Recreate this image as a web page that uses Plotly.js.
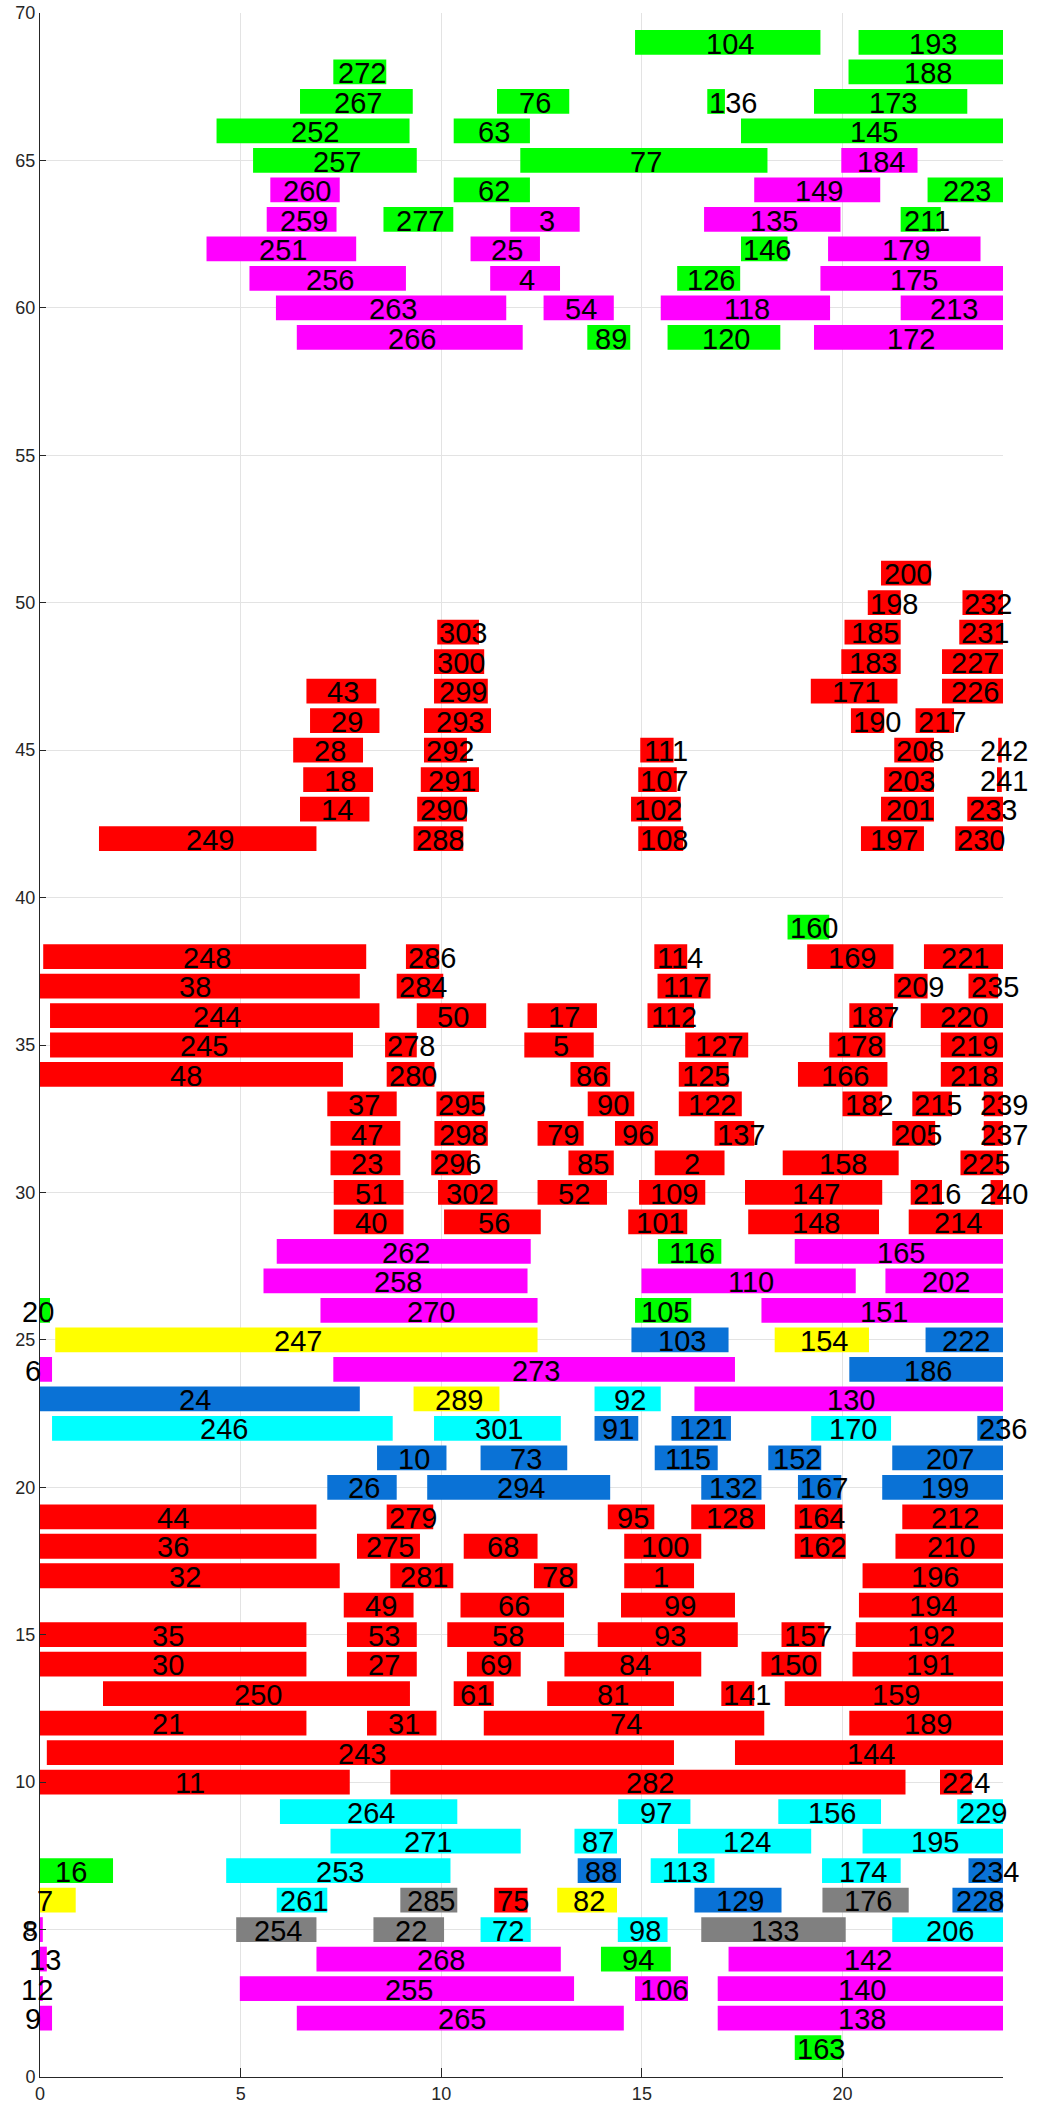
<!DOCTYPE html>
<html>
<head>
<meta charset="utf-8">
<script src="https://cdn.plot.ly/plotly-3.0.1.min.js"></script>
<style>
html,body{margin:0;padding:0;background:#fff;}
#chart{width:1042px;height:2113px;}
</style>
</head>
<body>
<div id="chart"></div>
<script>
// ---- data: one entry per bar, rows listed from top (69) to bottom (1) ----
const barLabel = [
104,193,
272,188,
267,76,136,173,
252,63,145,
257,77,184,
260,62,149,223,
259,277,3,135,211,
251,25,146,179,
256,4,126,175,
263,54,118,213,
266,89,120,172,
200,
198,232,
303,185,231,
300,183,227,
43,299,171,226,
29,293,190,217,
28,292,111,208,242,
18,291,107,203,241,
14,290,102,201,233,
249,288,108,197,230,
160,
248,286,114,169,221,
38,284,117,209,235,
244,50,17,112,187,220,
245,278,5,127,178,219,
48,280,86,125,166,218,
37,295,90,122,182,215,239,
47,298,79,96,137,205,237,
23,296,85,2,158,225,
51,302,52,109,147,216,240,
40,56,101,148,214,
262,116,165,
258,110,202,
20,270,105,151,
247,103,154,222,
6,273,186,
24,289,92,130,
246,301,91,121,170,236,
10,73,115,152,207,
26,294,132,167,199,
44,279,95,128,164,212,
36,275,68,100,162,210,
32,281,78,1,196,
49,66,99,194,
35,53,58,93,157,192,
30,27,69,84,150,191,
250,61,81,141,159,
21,31,74,189,
243,144,
11,282,224,
264,97,156,229,
271,87,124,195,
16,253,88,113,174,234,
7,261,285,75,82,129,176,228,
8,254,22,72,98,133,206,
13,268,94,142,
12,255,106,140,
9,265,138,
163
];

const barRow = [
69,69,
68,68,
67,67,67,67,
66,66,66,
65,65,65,
64,64,64,64,
63,63,63,63,63,
62,62,62,62,
61,61,61,61,
60,60,60,60,
59,59,59,59,
51,
50,50,
49,49,49,
48,48,48,
47,47,47,47,
46,46,46,46,
45,45,45,45,45,
44,44,44,44,44,
43,43,43,43,43,
42,42,42,42,42,
39,
38,38,38,38,38,
37,37,37,37,37,
36,36,36,36,36,36,
35,35,35,35,35,35,
34,34,34,34,34,34,
33,33,33,33,33,33,33,
32,32,32,32,32,32,32,
31,31,31,31,31,31,
30,30,30,30,30,30,30,
29,29,29,29,29,
28,28,28,
27,27,27,
26,26,26,26,
25,25,25,25,
24,24,24,
23,23,23,23,
22,22,22,22,22,22,
21,21,21,21,21,
20,20,20,20,20,
19,19,19,19,19,19,
18,18,18,18,18,18,
17,17,17,17,17,
16,16,16,16,
15,15,15,15,15,15,
14,14,14,14,14,14,
13,13,13,13,13,
12,12,12,12,
11,11,
10,10,10,
9,9,9,9,
8,8,8,8,
7,7,7,7,7,7,
6,6,6,6,6,6,6,6,
5,5,5,5,5,5,5,
4,4,4,4,
3,3,3,3,
2,2,2,
1
];

const barStart = [
14.83,20.40,
7.31,20.15,
6.48,11.39,16.63,19.29,
4.40,10.31,17.47,
5.31,11.97,19.97,
5.74,10.31,17.80,22.12,
5.65,8.56,11.72,16.55,21.45,
4.15,10.73,17.47,19.64,
5.22,11.22,15.88,19.45,
5.88,12.55,15.47,21.45,
6.40,13.64,15.64,19.29,
20.96,
20.63,22.99,
9.90,20.05,22.91,
9.82,19.97,22.48,
6.64,9.82,19.21,22.48,
6.73,9.57,20.21,21.82,
6.31,9.57,14.96,21.29,23.88,
6.56,9.49,14.91,21.04,23.85,
6.48,9.40,14.73,20.96,23.11,
1.47,9.31,14.91,20.46,22.81,
18.63,
0.08,9.12,15.31,19.12,22.03,
-0.35,8.89,15.39,21.29,23.14,
0.25,9.39,12.15,15.14,20.17,21.95,
0.25,8.60,12.07,16.08,19.67,22.45,
-0.35,8.64,13.22,15.92,18.89,22.45,
7.16,9.88,13.65,15.92,20.00,21.74,23.52,
7.24,9.83,12.40,14.33,16.81,21.24,23.52,
7.24,9.75,13.17,15.32,18.51,22.94,
7.32,9.92,12.40,14.93,17.57,21.70,23.69,
7.32,10.07,14.66,17.65,21.65,
5.90,15.40,18.81,
5.57,14.99,21.07,
-0.50,6.99,14.83,17.98,
0.38,14.74,18.31,22.07,
-0.76,7.31,20.17,
-0.35,9.31,13.82,16.31,
0.30,9.82,13.82,15.74,19.22,23.36,
8.40,10.98,15.32,18.15,21.24,
7.16,9.65,16.48,18.89,20.99,
-0.35,8.64,14.15,16.23,18.81,21.49,
-0.35,7.90,10.56,14.56,18.81,21.32,
-0.35,8.73,12.31,14.56,20.50,
7.57,10.48,14.48,20.41,
-0.35,7.65,10.15,13.90,18.48,20.33,
-0.35,7.65,10.64,13.07,17.98,20.25,
1.57,10.31,12.64,16.98,18.56,
-0.35,8.15,11.06,20.17,
0.17,17.32,
-0.35,8.73,22.43,
5.98,14.41,18.40,22.86,
7.24,13.32,15.90,20.50,
-0.36,4.64,13.40,15.22,19.49,23.14,
-0.75,5.90,8.98,11.32,12.89,16.31,19.50,22.74,
-0.69,4.89,8.31,10.98,14.40,16.48,21.24,
-0.33,6.89,13.98,17.16,
-0.52,4.98,14.83,16.89,
-0.76,6.40,16.89,
18.81
];

const barEnd = [
19.45,24,
8.63,24,
9.29,13.19,17.07,23.11,
9.21,12.21,24,
9.39,18.13,21.87,
7.47,12.21,20.94,24,
7.39,10.30,13.45,19.95,22.45,
7.88,12.46,18.63,23.44,
9.12,12.96,17.45,24,
11.62,14.30,19.69,24,
12.03,14.71,18.45,24,
22.20,
21.45,24,
10.94,21.45,24,
11.07,21.45,24,
8.38,11.16,21.37,24,
8.46,11.24,21.04,22.78,
8.05,10.64,15.79,22.28,23.97,
8.30,10.94,15.87,22.28,23.97,
8.21,10.64,15.97,22.28,24,
6.89,10.55,16.03,22.03,24,
19.67,
8.13,9.95,16.13,21.27,24,
7.97,10.05,16.71,22.12,23.88,
8.46,11.12,13.88,16.30,21.26,24,
7.80,9.39,13.80,17.65,21.07,24,
7.55,9.83,14.21,17.16,21.12,24,
8.89,11.07,14.81,17.49,20.99,22.73,24.3,
8.98,11.16,13.55,15.40,17.80,22.31,24.2,
8.98,10.74,14.30,17.06,21.40,24,
9.06,11.40,14.13,16.58,20.99,22.48,24.3,
9.06,12.48,16.13,20.91,24,
12.23,16.98,24,
12.15,20.33,24,
0.25,12.40,16.23,24,
12.40,17.16,20.66,24,
0.30,17.32,24,
7.97,11.45,15.47,24,
8.79,12.98,14.91,17.22,21.21,24.1,
10.13,13.14,16.89,19.47,24,
8.89,14.21,17.98,19.97,24,
6.89,9.80,15.31,18.07,20.00,24,
6.89,9.47,12.40,16.48,20.08,24,
7.47,10.30,13.39,16.30,24,
9.31,13.06,17.32,24,
6.64,9.39,13.06,17.39,19.55,24,
6.64,9.39,11.98,16.48,19.47,24,
9.22,11.31,15.80,17.80,24,
6.64,9.88,18.05,24,
15.80,24,
7.72,21.57,23.22,
10.40,16.21,20.96,24,
11.98,14.38,19.22,24,
1.82,10.23,14.48,16.81,21.45,24,
0.89,7.16,10.40,12.15,14.38,18.48,21.65,24,
0.07,6.89,10.07,12.23,15.64,20.08,24,
0.17,12.98,15.72,24,
0.07,13.31,16.15,24,
0.30,14.55,24,
19.97
];

// colour group of each bar
const barGroup = [
'G','G',
'G','G',
'G','G','G','G',
'G','G','G',
'G','G','M',
'M','G','M','G',
'M','G','M','M','G',
'M','M','G','M',
'M','M','G','M',
'M','M','M','M',
'M','G','G','M',
'R',
'R','R',
'R','R','R',
'R','R','R',
'R','R','R','R',
'R','R','R','R',
'R','R','R','R','R',
'R','R','R','R','R',
'R','R','R','R','R',
'R','R','R','R','R',
'G',
'R','R','R','R','R',
'R','R','R','R','R',
'R','R','R','R','R','R',
'R','R','R','R','R','R',
'R','R','R','R','R','R',
'R','R','R','R','R','R','R',
'R','R','R','R','R','R','R',
'R','R','R','R','R','R',
'R','R','R','R','R','R','R',
'R','R','R','R','R',
'M','G','M',
'M','M','M',
'G','M','G','M',
'Y','B','Y','B',
'M','M','B',
'B','Y','C','M',
'C','C','B','B','C','B',
'B','B','B','B','B',
'B','B','B','B','B',
'R','R','R','R','R','R',
'R','R','R','R','R','R',
'R','R','R','R','R',
'R','R','R','R',
'R','R','R','R','R','R',
'R','R','R','R','R','R',
'R','R','R','R','R',
'R','R','R','R',
'R','R',
'R','R','R',
'C','C','C','C',
'C','C','C','C',
'G','C','B','C','C','B',
'Y','C','K','R','Y','B','K','B',
'M','K','K','C','C','K','C',
'M','M','G','M',
'M','M','M','M',
'M','M','M',
'G'
];

const groupColor = {R:'#ff0000', G:'#00ff00', M:'#ff00ff', C:'#00ffff', Y:'#ffff00', B:'#0a72d6', K:'#808080'};

const xTickVals = [0,5,10,15,20];
const yTickVals = [0,5,10,15,20,25,30,35,40,45,50,55,60,65,70];

// ---- drawing ----
const X_RANGE = [0, 24];
const Y_RANGE = [0, 70];
const MARGIN = {l: 40, r: 39, t: 13, b: 36, pad: 0};
const W = 1042, H = 2113;
const pxPerX = (W - MARGIN.l - MARGIN.r) / (X_RANGE[1] - X_RANGE[0]);
const DIGIT_PX = 16;             // approx. width of one label digit in pixels
const RIGHT_LIMIT_PX = W - 14;   // labels are kept inside the picture

const dur = barStart.map((s,i) => barEnd[i] - s);
const digitW = DIGIT_PX / pxPerX; // x-units per digit of label text
const textX = barStart.map((s,i) => {
  const nd = String(barLabel[i]).length;
  const w = nd * digitW;
  let cx = s + Math.max(dur[i], w)/2 + 0.05;
  const maxCx = (RIGHT_LIMIT_PX - nd * DIGIT_PX / 2 - MARGIN.l) / pxPerX + X_RANGE[0];
  return Math.min(cx, maxCx);
});

const barTrace = {
  type: 'bar',
  orientation: 'h',
  y: barRow,
  x: dur,
  base: barStart,
  width: 0.84,
  marker: {color: barGroup.map(g => groupColor[g]), line: {width: 0}},
  hoverinfo: 'skip',
  showlegend: false
};

// labels as annotations; anchors kept inside the axis range, with a pixel shift
// for labels whose centre lies past the axis edge (so they are still drawn)
const labelFont = {family: 'Liberation Sans, Arial, sans-serif', size: 29, color: '#000000'};
const annotations = barLabel.map((lab, i) => {
  const xa = Math.min(Math.max(textX[i], X_RANGE[0] + 0.001), X_RANGE[1] - 0.001);
  return {
    xref: 'x', yref: 'y',
    x: xa, y: barRow[i] - 0.04,
    xshift: (textX[i] - xa) * pxPerX,
    text: String(lab),
    showarrow: false,
    xanchor: 'center', yanchor: 'middle',
    borderpad: 0,
    font: labelFont
  };
});

const axisCommon = {
  showgrid: true,
  gridcolor: '#e3e3e3',
  gridwidth: 1,
  showline: true,
  linecolor: '#262626',
  linewidth: 1,
  zeroline: false,
  ticks: 'inside',
  tickcolor: '#262626',
  tickfont: {family: 'Liberation Sans, Arial, sans-serif', size: 18, color: '#262626'},
  fixedrange: true
};

const layout = {
  width: W,
  height: H,
  margin: MARGIN,
  paper_bgcolor: '#ffffff',
  plot_bgcolor: '#ffffff',
  barmode: 'overlay',
  showlegend: false,
  annotations: annotations,
  xaxis: Object.assign({}, axisCommon, {
    range: X_RANGE,
    tickmode: 'array',
    tickvals: xTickVals,
    ticktext: xTickVals.map(String),
    ticklen: 9
  }),
  yaxis: Object.assign({}, axisCommon, {
    range: Y_RANGE,
    tickmode: 'array',
    tickvals: yTickVals,
    ticktext: yTickVals.map(String),
    ticklen: 6
  })
};

Plotly.newPlot('chart', [barTrace], layout, {staticPlot: true, displayModeBar: false});
</script>
</body>
</html>
